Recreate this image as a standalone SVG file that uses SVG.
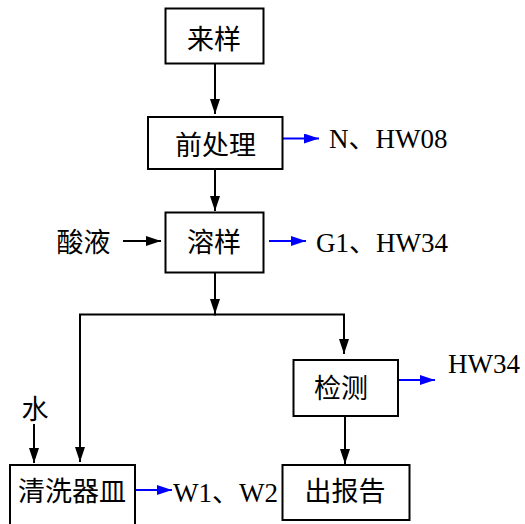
<svg xmlns="http://www.w3.org/2000/svg" width="525" height="524" viewBox="0 0 525 524">
<style>
.box{fill:#fff;stroke:#000;stroke-width:2}
.t{font-family:"Liberation Serif","Noto Sans CJK SC",serif;font-size:27px;fill:#000}
.c{text-anchor:middle}
.k{fill:none;stroke:#000;stroke-width:2}
.b{fill:none;stroke:#0000ff;stroke-width:2}
</style>
<defs>
<marker id="ak" markerUnits="userSpaceOnUse" markerWidth="15" markerHeight="10" refX="15" refY="5" orient="auto"><path d="M0,0 L15,5 L0,10 z" fill="#000"/></marker>
<marker id="ab" markerUnits="userSpaceOnUse" markerWidth="15" markerHeight="10" refX="15" refY="5" orient="auto"><path d="M0,0 L15,5 L0,10 z" fill="#0000ff"/></marker>
</defs>
<rect width="525" height="524" fill="#fff"/>
<g id="connectors">
<line class="k" x1="215" y1="64" x2="215" y2="114" marker-end="url(#ak)"/>
<line class="k" x1="215" y1="169" x2="215" y2="211" marker-end="url(#ak)"/>
<line class="k" x1="123" y1="241" x2="161" y2="241" marker-end="url(#ak)"/>
<line class="k" x1="215" y1="272" x2="215" y2="314" marker-end="url(#ak)"/>
<polyline class="k" points="216,314.5 80,314.5 80,462" marker-end="url(#ak)"/>
<polyline class="k" points="214,314.5 344,314.5 344,354" marker-end="url(#ak)"/>
<line class="k" x1="34" y1="424" x2="34" y2="463" marker-end="url(#ak)"/>
<line class="k" x1="345" y1="416" x2="345" y2="464" marker-end="url(#ak)"/>
<line class="b" x1="283" y1="138.5" x2="319" y2="138.5" marker-end="url(#ab)"/>
<line class="b" x1="269" y1="241" x2="306" y2="241" marker-end="url(#ab)"/>
<line class="b" x1="398" y1="380" x2="435" y2="380" marker-end="url(#ab)"/>
<line class="b" x1="135" y1="490" x2="172" y2="490" marker-end="url(#ab)"/>
</g>
<g id="n-laiyang"><rect class="box" x="165.5" y="8.5" width="98" height="55"/><text class="t c" x="214" y="49">来样</text></g>
<g id="n-qianchuli"><rect class="box" x="148" y="117" width="134.5" height="52"/><text class="t c" x="215.5" y="155">前处理</text></g>
<g id="n-rongyang"><rect class="box" x="165.5" y="212.5" width="98" height="60"/><text class="t c" x="214" y="252">溶样</text></g>
<g id="n-jiance"><rect class="box" x="293.5" y="360" width="104.5" height="56"/><text class="t c" x="341" y="398">检测</text></g>
<g id="n-qingxi"><rect class="box" x="10" y="465" width="125" height="70"/><text class="t c" x="72" y="501">清洗器皿</text></g>
<g id="n-baogao"><rect class="box" x="282.5" y="465" width="127" height="55"/><text class="t c" x="345" y="501">出报告</text></g>
<g id="labels">
<text class="t c" x="83.5" y="252">酸液</text>
<text class="t c" x="35" y="419">水</text>
<text class="t" x="329" y="148">N、HW08</text>
<text class="t" x="316" y="252">G1、HW34</text>
<text class="t" x="448" y="373">HW34</text>
<text class="t" x="173" y="502">W1、W2</text>
</g>
</svg>
